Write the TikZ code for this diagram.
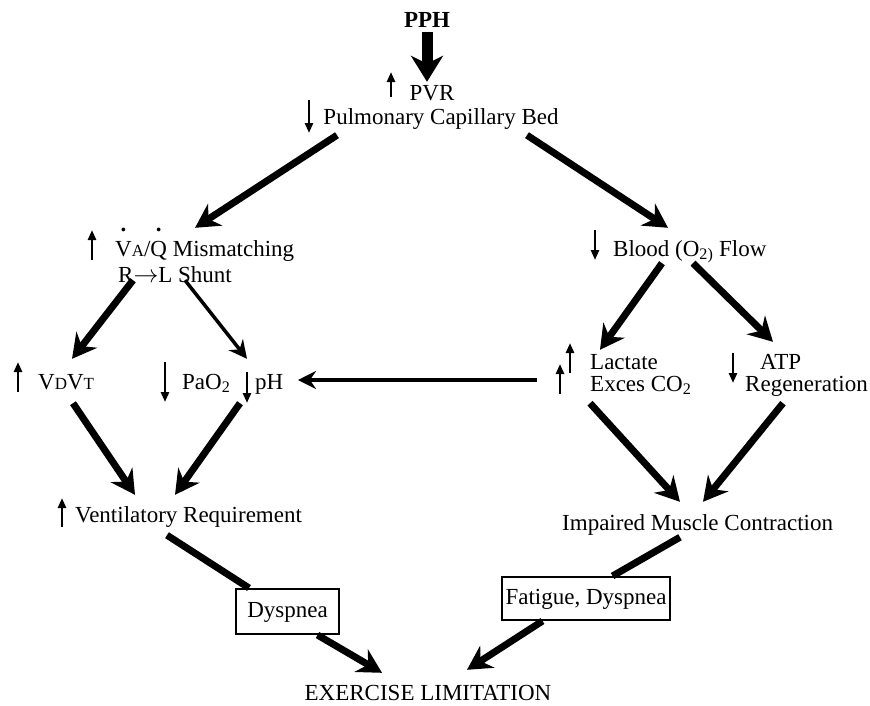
\documentclass[tikz,border=0pt]{standalone}
\usepackage{fontspec}
\setmainfont{Liberation Serif}
\usetikzlibrary{arrows.meta}

% dot over a letter (flow rate symbols)
\newcommand\dotover[1]{\sbox0{#1}\rlap{\makebox[\wd0]{\raisebox{1.05em}{\bfseries .}}}#1}
% small capital letter in subscripts like V_A, V_D, V_T
\newcommand\smallcap[1]{{\fontsize{17}{17}\selectfont #1}}

\begin{document}
\begin{tikzpicture}[x=1pt,y=-1pt,
    every node/.style={font=\fontsize{23}{26}\selectfont},
    tx/.style={inner sep=0pt,text height=16pt,text depth=5pt},
    boxed/.style={tx,draw,line width=2pt,inner xsep=4pt},
    bigarr/.style={line width=7pt,-{Stealth[length=24pt,width=26pt,inset=8pt]}},
    midarr/.style={line width=3.5pt,-{Stealth[length=18pt,width=18pt,inset=6pt]}},
    heavy/.style={line width=7pt},
    ind/.style={line width=2.5pt,-{Triangle[length=10pt,width=8pt]}}]

    \useasboundingbox (0,0) rectangle (870,705);

    % top: PPH and the pulmonary bed
    \node[tx,anchor=base,font=\fontsize{23}{26}\selectfont\bfseries] (pph) at (427,27) {PPH};
    \node[tx,anchor=base] (pvr) at (432,100) {PVR};
    \node[tx,anchor=base] (pcb) at (441,124) {Pulmonary Capillary Bed};

    % left branch
    \node[tx,anchor=base west] (vaq) at (115,256) {\dotover{V}\smallcap{A}/\dotover{Q} Mismatching};
    \node[tx,anchor=base west] (shunt) at (118,282) {R$\rightarrow$L Shunt};
    \node[tx,anchor=base west] (vdvt) at (38,389) {V\smallcap{D}V\smallcap{T}};
    \node[tx,anchor=base west] (pao) at (182,389) {PaO\textsubscript{2}};
    \node[tx,anchor=base west] (ph) at (255,389) {pH};
    \node[tx,anchor=base west] (vent) at (75,522) {Ventilatory Requirement};

    % right branch
    \node[tx,anchor=base west] (blood) at (613,256) {Blood (O\textsubscript{2)} Flow};
    \node[tx,anchor=base west] (lact) at (590,369) {Lactate};
    \node[tx,anchor=base west] (exces) at (590,391) {Exces CO\textsubscript{2}};
    \node[tx,anchor=base west] (atp) at (760,369) {ATP};
    \node[tx,anchor=base west] (regen) at (745,391) {Regeneration};
    \node[tx,anchor=base west] (musc) at (562,530) {Impaired Muscle Contraction};

    % symptoms and outcome
    \node[boxed,minimum width=103pt,minimum height=45pt] (dysp) at (287.5,611.5) {Dyspnea};
    \node[boxed,minimum width=162pt,minimum height=43pt] (fatig) at (586,598.5) {Fatigue, Dyspnea};
    \node[tx,anchor=base,text depth=0pt] (exlim) at (428,700) {EXERCISE LIMITATION};

    % up / down markers
    \draw[ind] (391,97) -- (391,72);
    \draw[ind] (309,100) -- (309,133);
    \draw[ind] (92,260) -- (92,230);
    \draw[ind] (595,230) -- (595,260);
    \draw[ind] (18,392) -- (18,362);
    \draw[ind] (165,362) -- (165,402);
    \draw[ind] (247,372) -- (247,403);
    \draw[ind] (570,373) -- (570,343);
    \draw[ind] (560,394) -- (560,364);
    \draw[ind] (733,353) -- (733,383);
    \draw[ind] (62,527) -- (62,498);

    % main arrow out of PPH
    \draw[line width=11pt,-{Stealth[length=26pt,width=32pt,inset=8pt]}] (pph.south) -- ([shift={(-5,-2)}]pvr.north);

    % split into the two branches
    \draw[bigarr] ([shift={(-104,6)}]pcb.south) -- ([shift={(80,-12)}]vaq.north west);
    \draw[bigarr] ([shift={(86,6)}]pcb.south) -- ([shift={(55,-12)}]blood.north west);

    % left branch arrows
    \draw[bigarr] ([shift={(15,-7)}]shunt.south west) -- ([shift={(34,-14)}]vdvt.north west);
    \draw[midarr] ([shift={(67,-7)}]shunt.south west) -- ([shift={(-8,-14)}]ph.north west);
    \draw[bigarr] ([shift={(35,9)}]vdvt.south west) -- ([shift={(60,-11)}]vent.north west);
    \draw[bigarr] ([shift={(-15,9)}]ph.south west) -- ([shift={(100,-11)}]vent.north west);

    % right branch arrows
    \draw[bigarr] ([shift={(49,2)}]blood.south west) -- ([shift={(10,-3)}]lact.north west);
    \draw[bigarr] ([shift={(80,2)}]blood.south west) -- ([shift={(13,-11)}]atp.north west);
    \draw[midarr] ([shift={(-53,-11)}]exces.base west) -- ([shift={(43,-9)}]ph.base west);
    \draw[bigarr] ([shift={(0,7)}]exces.south west) -- ([shift={(118,-12)}]musc.north west);
    \draw[bigarr] ([shift={(38,7)}]regen.south west) -- ([shift={(141,-12)}]musc.north west);

    % down to exercise limitation
    \draw[heavy] ([shift={(92,8)}]vent.south west) -- ([shift={(14,0)}]dysp.north west);
    \draw[bigarr] ([shift={(30,0)}]dysp.south) -- ([shift={(-46,-11)}]exlim.north);
    \draw[heavy] ([shift={(118,2)}]musc.south west) -- ([shift={(112,0)}]fatig.north west);
    \draw[bigarr] ([shift={(42,0)}]fatig.south west) -- ([shift={(39,-14)}]exlim.north);

\end{tikzpicture}
\end{document}
